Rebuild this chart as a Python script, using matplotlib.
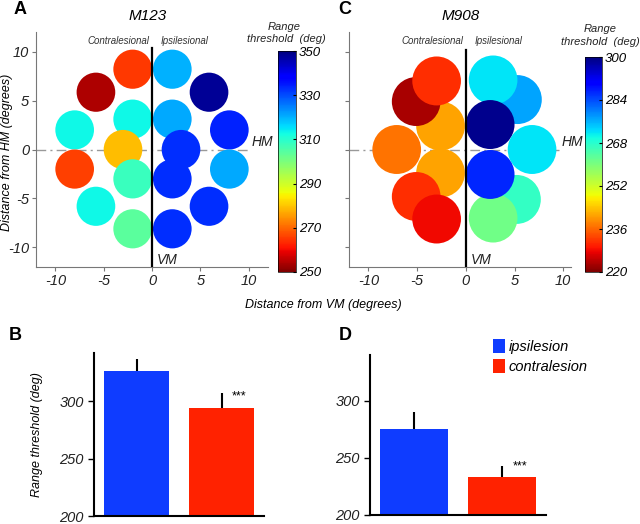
import numpy as np
import matplotlib
matplotlib.use("Agg")
import matplotlib.pyplot as plt
from matplotlib.patches import Circle
from matplotlib.collections import PatchCollection

plt.rcParams['font.family'] = ['Liberation Sans', 'DejaVu Sans']
plt.rcParams['font.style'] = 'italic'
plt.rcParams['axes.unicode_minus'] = False

# M123 receptive-field map (x, y in degrees, range threshold in deg)
m123_x = [-2.0, 2.1, -5.8, 5.9, -8.0, -2.0, 2.1, 8.0, -3.0, 3.0, -8.0, -2.0, 2.1, 8.0, -5.8, 5.9, -2.0, 2.1]
m123_y = [8.2, 8.2, 5.85, 5.85, 2.0, 3.1, 3.1, 2.0, 0.0, 0.0, -2.0, -3.0, -3.0, -2.0, -5.8, -5.8, -8.1, -8.1]
m123_thr = [265, 320, 254, 348, 313, 313, 321, 334, 279, 333, 266, 308, 333, 321, 313, 333, 304, 333]

# M908 map
m908_x = [-2.6, -5.1, -3.0, -7.1, -2.6, -5.1, -3.0, 5.3, 2.8, 2.5, 6.8, 5.2, 2.8, 2.5]
m908_y = [2.4, 4.9, 7.0, 0.0, -2.4, -4.8, -7.1, 5.1, 7.1, 2.55, 0.0, -5.1, -7.0, -2.55]
m908_thr = [241, 223, 231, 237, 241, 231, 228, 277, 272, 299, 272, 267, 261, 287]

# bar summaries
groups = ['ipsilesion', 'contralesion']
b_mean = [326.5, 294.5]
b_err = [10.5, 12.5]
d_mean = [275, 233.5]
d_err = [15, 9.5]
bar_colors = ['#0f3cff', '#ff2200']

W, H = 640, 524
fig = plt.figure(figsize=(W / 100, H / 100), dpi=100)


def box(x0, y0, x1, y1):
    # pixel box -> figure fraction rect
    return [x0 / W, 1 - y1 / H, (x1 - x0) / W, (y1 - y0) / H]


def field_map(ax, xs, ys, vals, r, vmin, vmax, xlim, title, hm_end, vm_top):
    pc = PatchCollection([Circle((x, y), r) for x, y in zip(xs, ys)],
                         cmap='jet_r', edgecolor='none', zorder=3)
    pc.set_array(np.array(vals, dtype=float))
    pc.set_clim(vmin, vmax)
    ax.add_collection(pc)
    ax.plot([xlim[0], hm_end], [0, 0], color='#999999', lw=1,
            ls=(0, (7, 3, 1.5, 3)), zorder=1)
    ax.plot([0, 0], [-12, vm_top], color='black', lw=1.6, zorder=4)
    ax.set_xlim(*xlim)
    ax.set_ylim(-12, 12)
    for s in ['top', 'right']:
        ax.spines[s].set_visible(False)
    for s in ['left', 'bottom']:
        ax.spines[s].set_color('#777777')
        ax.spines[s].set_linewidth(0.8)
    ax.set_xticks([-10, -5, 0, 5, 10])
    ax.set_yticks([-10, -5, 0, 5, 10])
    ax.tick_params(colors='#777777', labelcolor='#222222', labelsize=10.5, length=3, pad=2)
    ax.text(hm_end + 0.2, 0.1, 'HM', fontsize=10, color='#222222', va='bottom', ha='left')
    ax.text(0.5, -11.3, 'VM', fontsize=10, color='#222222', va='center', ha='left')
    ax.text(-0.25, 10.6, 'Contralesional', fontsize=7, color='#333333', ha='right', va='bottom')
    ax.text(0.9, 10.6, 'Ipsilesional', fontsize=7, color='#333333', ha='left', va='bottom')
    ax.text(-0.5, 13.6, title, fontsize=11, ha='center', va='center', clip_on=False)
    return pc


# panel A
axA = fig.add_axes(box(36, 32, 268, 267))
pcA = field_map(axA, m123_x, m123_y, m123_thr, 2.0, 250, 350, (-12, 12), 'M123', 10.1, 10.4)
caxA = fig.add_axes(box(278, 51, 296, 272))
cbA = fig.colorbar(pcA, cax=caxA, ticks=[250, 270, 290, 310, 330, 350])
cbA.outline.set_linewidth(0.5)
caxA.tick_params(labelsize=9.5, length=2, direction='in', pad=2)

# panel C
axC = fig.add_axes(box(349, 32, 571, 267))
pcC = field_map(axC, m908_x, m908_y, m908_thr, 2.5, 220, 300, (-12, 10.8), 'M908', 9.6, 10.2)
axC.set_yticklabels([])
caxC = fig.add_axes(box(585, 57, 602, 272))
cbC = fig.colorbar(pcC, cax=caxC, ticks=[220, 236, 252, 268, 284, 300])
cbC.outline.set_linewidth(0.5)
caxC.tick_params(labelsize=9.5, length=2, direction='in', pad=2)

fig.text(7 / W, 1 - 152 / H, 'Distance from HM (degrees)', fontsize=9, rotation=90,
         ha='center', va='center')
fig.text(284 / W, 1 - 27 / H, 'Range', fontsize=8, ha='center', va='center', color='#222222')
fig.text(286 / W, 1 - 39 / H, 'threshold  (deg)', fontsize=8, ha='center', va='center', color='#222222')
fig.text(600 / W, 1 - 29 / H, 'Range', fontsize=8, ha='center', va='center', color='#222222')
fig.text(600 / W, 1 - 42 / H, 'threshold  (deg)', fontsize=8, ha='center', va='center', color='#222222')
fig.text(323 / W, 1 - 305 / H, 'Distance from VM (degrees)', fontsize=9, ha='center', va='center')


def bar_panel(ax, means, errs, top):
    x = np.arange(len(means)) + 0.5
    bars = ax.bar(x, means, width=0.77, color=bar_colors, label=groups)
    ax.errorbar(x, means, yerr=[np.zeros(len(errs)), errs], fmt='none',
                ecolor='black', elinewidth=1.5, capsize=0)
    ax.text(x[1] + 0.12, means[1] + errs[1] * 0.35, '***', fontsize=9, ha='left', va='bottom',
            fontstyle='normal')
    ax.set_xlim(0, 2)
    ax.set_ylim(200, top)
    ax.set_xticks([])
    ax.set_yticks([200, 250, 300])
    ax.spines['top'].set_visible(False)
    ax.spines['right'].set_visible(False)
    ax.spines['left'].set_linewidth(1.5)
    ax.spines['bottom'].set_linewidth(1.5)
    ax.tick_params(axis='y', labelsize=10.5, length=4, width=1, labelcolor='#222222')
    return bars


axB = fig.add_axes(box(94, 353, 264, 516))
bar_panel(axB, b_mean, b_err, 342)
axB.set_ylabel('Range threshold (deg)', fontsize=9, labelpad=12)

axD = fig.add_axes(box(370, 355, 546, 515))
bar_panel(axD, d_mean, d_err, 340)
axD.legend(loc='upper left', bbox_to_anchor=(0.665, 1.137), frameon=False,
           fontsize=10.5, handlelength=0.8, handleheight=1.1, handletextpad=0.3,
           labelspacing=0.35, borderaxespad=0)

for lab, px, py in [('A', 20, 10), ('C', 345, 10), ('B', 15, 335), ('D', 345, 335)]:
    fig.text(px / W, 1 - py / H, lab, fontsize=13, fontweight='bold', fontstyle='normal',
             ha='center', va='center')

fig.savefig('out.png', dpi=100)
